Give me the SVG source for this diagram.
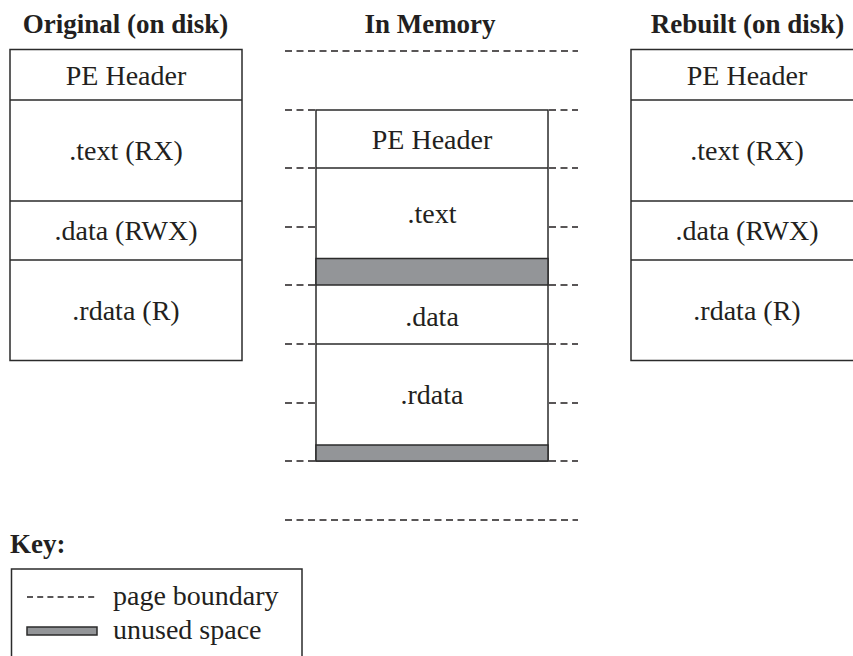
<svg xmlns="http://www.w3.org/2000/svg" width="853" height="656" viewBox="0 0 853 656">
<style>
  .t{font-family:"Liberation Serif","Times New Roman",serif;font-size:28px;fill:#231f20;text-anchor:middle}
  .h{font-family:"Liberation Serif","Times New Roman",serif;font-size:27px;font-weight:bold;fill:#231f20;text-anchor:middle}
  .box{fill:#fff;stroke:#2b2b2b;stroke-width:1.5}
  .sep{stroke:#2b2b2b;stroke-width:1.5;fill:none}
  .gap{fill:#939598;stroke:#2b2b2b;stroke-width:1.5}
  .pb{stroke:#231f20;stroke-width:1.4;stroke-dasharray:7 4.5;fill:none}
</style>
<rect width="853" height="656" fill="#fff"/>

<g id="titles">
  <text class="h" x="125.5" y="33">Original (on disk)</text>
  <text class="h" x="430" y="33">In Memory</text>
  <text class="h" x="747.5" y="33">Rebuilt (on disk)</text>
</g>

<g id="connectors">
  <line class="pb" x1="285" y1="51" x2="578" y2="51"/>
  <line class="pb" x1="285" y1="520" x2="578" y2="520"/>
  <path class="pb" d="M285 110H316M285 168H316M285 227H316M285 285H316M285 344H316M285 403H316M285 461H316"/>
  <path class="pb" d="M549 110H578M549 168H578M549 227H578M549 285H578M549 344H578M549 403H578M549 461H578"/>
</g>

<g id="original">
  <rect class="box" x="10" y="49.5" width="232" height="311"/>
  <path class="sep" d="M10 100H242M10 201H242M10 260H242"/>
  <text class="t" x="126" y="84.5">PE Header</text>
  <text class="t" x="126" y="160">.text (RX)</text>
  <text class="t" x="126" y="240">.data (RWX)</text>
  <text class="t" x="126" y="320">.rdata (R)</text>
</g>

<g id="memory">
  <rect class="box" x="316" y="110" width="232" height="351"/>
  <path class="sep" d="M316 168H548M316 344H548"/>
  <rect class="gap" x="316" y="258.5" width="232" height="26.5"/>
  <rect class="gap" x="316" y="445" width="232" height="16"/>
  <text class="t" x="432" y="148.5">PE Header</text>
  <text class="t" x="432" y="223">.text</text>
  <text class="t" x="432" y="326">.data</text>
  <text class="t" x="432" y="404">.rdata</text>
</g>

<g id="rebuilt">
  <rect class="box" x="631" y="49.5" width="232" height="311"/>
  <path class="sep" d="M631 100H863M631 201H863M631 260H863"/>
  <text class="t" x="747" y="84.5">PE Header</text>
  <text class="t" x="747" y="160">.text (RX)</text>
  <text class="t" x="747" y="240">.data (RWX)</text>
  <text class="t" x="747" y="320">.rdata (R)</text>
</g>

<g id="key">
  <text class="h" x="10" y="553" style="text-anchor:start">Key:</text>
  <rect class="box" x="11.5" y="569" width="290.5" height="100"/>
  <line class="pb" x1="27" y1="597" x2="98" y2="597" style="stroke-dasharray:6 4.2"/>
  <text class="t" x="113" y="605" style="text-anchor:start">page boundary</text>
  <rect class="gap" x="27" y="627" width="70" height="8"/>
  <text class="t" x="113" y="639" style="text-anchor:start">unused space</text>
</g>
</svg>
